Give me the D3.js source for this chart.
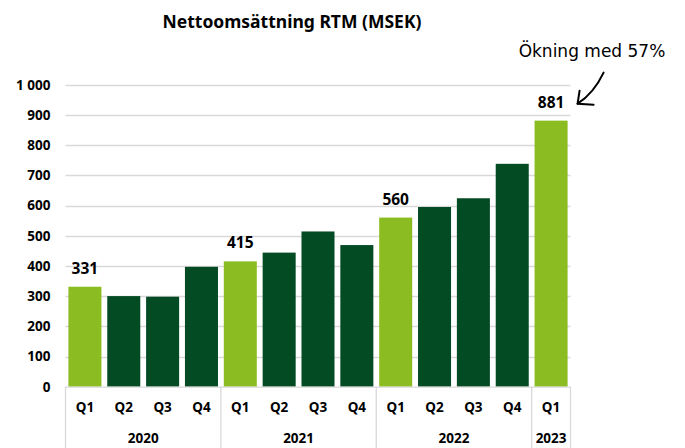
<!DOCTYPE html>
<html>
<head>
<meta charset="utf-8">
<script src="https://cdn.jsdelivr.net/npm/d3@7"></script>
<style>
  body { margin: 0; background: #fff; }
  svg { display: block; font-family: "Noto Sans", "Open Sans", sans-serif; }
</style>
</head>
<body>
<svg id="chart" width="685" height="448"></svg>
<script>
var years = ["2020", "2020", "2020", "2020", "2021", "2021", "2021", "2021", "2022", "2022", "2022", "2022", "2023"];
var quarters = ["Q1", "Q2", "Q3", "Q4", "Q1", "Q2", "Q3", "Q4", "Q1", "Q2", "Q3", "Q4", "Q1"];
var sales = [331, 300, 298, 397, 415, 444, 514, 469, 560, 595, 624, 738, 881];
var yTicks = [0, 100, 200, 300, 400, 500, 600, 700, 800, 900, 1000];
var groups = ["2020", "2021", "2022", "2023"];

var data = sales.map(function(v, i) {
  return { key: years[i] + "-" + quarters[i], year: years[i], q: quarters[i], value: v };
});

var svg = d3.select("#chart");
var plotLeft = 65.5, plotRight = 570.5, plotTop = 84.7, plotBottom = 386.7;

var x = d3.scaleBand()
  .domain(data.map(function(d) { return d.key; }))
  .range([plotLeft, plotRight])
  .paddingInner(0.15)
  .paddingOuter(0.075);

var y = d3.scaleLinear().domain([0, 1000]).range([plotBottom, plotTop]);

var fmt = d3.formatLocale({ decimal: ",", thousands: " ", grouping: [3], currency: ["", " kr"] }).format(",d");

// gridlines
svg.append("g")
  .selectAll("line")
  .data(yTicks.slice(1))
  .enter()
  .append("line")
  .attr("x1", plotLeft)
  .attr("x2", plotRight)
  .attr("y1", function(d) { return Math.round(y(d)) + 0.5; })
  .attr("y2", function(d) { return Math.round(y(d)) + 0.5; })
  .attr("stroke", "#d9d9d9")
  .attr("stroke-width", 1.3);

// y labels
var yAxis = svg.append("g")
  .attr("transform", "translate(" + (plotLeft - 15) + ",0)")
  .call(d3.axisLeft(y).tickValues(yTicks).tickFormat(fmt).tickSize(0).tickPadding(0));
yAxis.select(".domain").remove();
yAxis.selectAll("text")
  .attr("font-family", "Noto Sans, sans-serif")
  .attr("font-size", "13.5px")
  .attr("font-weight", "bold")
  .attr("fill", "#000");

// bars
svg.append("g")
  .selectAll("rect")
  .data(data)
  .enter()
  .append("rect")
  .attr("x", function(d) { return x(d.key); })
  .attr("width", x.bandwidth())
  .attr("y", function(d) { return y(d.value); })
  .attr("height", function(d) { return y(0) - y(d.value); })
  .attr("fill", function(d) { return d.q === "Q1" ? "#8bbc21" : "#024b23"; });

// value labels on Q1 bars
svg.append("g")
  .selectAll("text")
  .data(data.filter(function(d) { return d.q === "Q1"; }))
  .enter()
  .append("text")
  .attr("x", function(d) { return x(d.key) + x.bandwidth() / 2; })
  .attr("y", function(d) { return y(d.value) - 13; })
  .attr("text-anchor", "middle")
  .attr("font-size", "15.5px")
  .attr("font-weight", "bold")
  .text(function(d) { return d.value; });

// category axis box
var axisG = svg.append("g");
var half = (x.step() - x.bandwidth()) / 2;
axisG.append("line")
  .attr("x1", plotLeft).attr("x2", plotRight)
  .attr("y1", plotBottom + 0.5).attr("y2", plotBottom + 0.5)
  .attr("stroke", "#d9d9d9").attr("stroke-width", 1.3);

var bounds = [plotLeft];
groups.forEach(function(g, i) {
  if (i > 0) {
    var firstKey = data.filter(function(d) { return d.year === g; })[0].key;
    bounds.push(x(firstKey) - half);
  }
});
bounds.push(plotRight);

axisG.selectAll(".div")
  .data(bounds)
  .enter()
  .append("line")
  .attr("x1", function(d) { return d; })
  .attr("x2", function(d) { return d; })
  .attr("y1", plotBottom)
  .attr("y2", 448)
  .attr("stroke", "#d9d9d9")
  .attr("stroke-width", 1.3);

axisG.selectAll(".q")
  .data(data)
  .enter()
  .append("text")
  .attr("x", function(d) { return x(d.key) + x.bandwidth() / 2; })
  .attr("y", 412)
  .attr("text-anchor", "middle")
  .attr("font-size", "13.5px")
  .attr("font-weight", "bold")
  .text(function(d) { return d.q; });

axisG.selectAll(".yr")
  .data(groups)
  .enter()
  .append("text")
  .attr("x", function(d, i) { return (bounds[i] + bounds[i + 1]) / 2; })
  .attr("y", 443)
  .attr("text-anchor", "middle")
  .attr("font-size", "13.5px")
  .attr("font-weight", "bold")
  .text(function(d) { return d; });

// title
svg.append("text")
  .attr("x", 292)
  .attr("y", 28)
  .attr("text-anchor", "middle")
  .attr("font-size", "17.5px")
  .attr("font-weight", "bold")
  .text("Nettoomsättning RTM (MSEK)");

// annotation
var last = data[data.length - 1];
var ax = x(last.key) + x.bandwidth() + 10, ay = y(last.value) - 17;
svg.append("text")
  .attr("x", 592)
  .attr("y", 57)
  .attr("text-anchor", "middle")
  .attr("font-family", "DejaVu Sans, sans-serif")
  .attr("font-size", "17px")
  .attr("fill", "#000")
  .text("Ökning med 57%");

svg.append("path")
  .attr("d", "M" + (ax + 26) + "," + (ay - 31) + " Q" + (ax + 16) + "," + (ay - 10) + " " + ax + "," + ay)
  .attr("fill", "none")
  .attr("stroke", "#000")
  .attr("stroke-width", 2)
  .attr("stroke-linecap", "round");
svg.append("path")
  .attr("d", "M" + (ax + 2) + "," + (ay - 13) + " L" + ax + "," + ay + " L" + (ax + 16) + "," + (ay + 1))
  .attr("fill", "none")
  .attr("stroke", "#000")
  .attr("stroke-width", 2)
  .attr("stroke-linecap", "round")
  .attr("stroke-linejoin", "round");
</script>
</body>
</html>
